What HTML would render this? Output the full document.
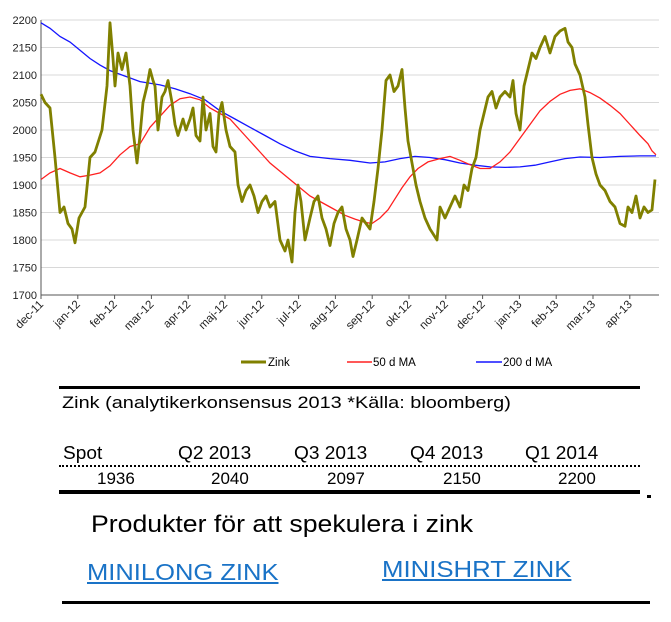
<!DOCTYPE html>
<html><head><meta charset="utf-8"><style>
body{margin:0;background:#fff;width:671px;height:622px;overflow:hidden;font-family:"Liberation Sans",sans-serif;position:relative}
.t{position:absolute;white-space:nowrap;color:#000;transform-origin:0 50%}
</style></head><body>
<svg id="s" width="671" height="380" style="position:absolute;left:0;top:0" font-family="Liberation Sans, sans-serif"></svg>
<div style="position:absolute;left:59px;top:386px;width:581px;height:3px;background:#000"></div>
<div class="t" style="left:62px;top:393px;font-size:17px;transform:scaleX(1.17)">Zink (analytikerkonsensus 2013 *Källa: bloomberg)</div>
<div class="t" style="left:63px;top:443px;font-size:18px;transform:scaleX(1.06)">Spot</div>
<div class="t" style="left:178px;top:443px;font-size:18px;transform:scaleX(1.06)">Q2 2013</div>
<div class="t" style="left:294px;top:443px;font-size:18px;transform:scaleX(1.06)">Q3 2013</div>
<div class="t" style="left:410px;top:443px;font-size:18px;transform:scaleX(1.06)">Q4 2013</div>
<div class="t" style="left:525px;top:443px;font-size:18px;transform:scaleX(1.06)">Q1 2014</div>
<div style="position:absolute;left:59px;top:465px;width:581px;border-top:2px dotted #000"></div>
<div class="t" style="left:97px;top:469px;font-size:17px">1936</div>
<div class="t" style="left:211px;top:469px;font-size:17px">2040</div>
<div class="t" style="left:327px;top:469px;font-size:17px">2097</div>
<div class="t" style="left:443px;top:469px;font-size:17px">2150</div>
<div class="t" style="left:558px;top:469px;font-size:17px">2200</div>
<div style="position:absolute;left:59px;top:490px;width:581px;height:4px;background:#000"></div>
<div style="position:absolute;left:647px;top:495px;width:4px;height:3px;background:#000"></div>
<div class="t" style="left:91px;top:511px;font-size:24px;transform:scaleX(1.11)">Produkter för att spekulera i zink</div>
<div class="t" style="left:87px;top:559px;font-size:23px;color:#1a73c7;text-decoration:underline;transform:scaleX(1.11)">MINILONG ZINK</div>
<div class="t" style="left:382px;top:556px;font-size:23px;color:#1a73c7;text-decoration:underline;transform:scaleX(1.12)">MINISHRT ZINK</div>
<div style="position:absolute;left:62px;top:601px;width:588px;height:3px;background:#000"></div>
<script>
var s=document.getElementById('s'),h='';
function Y(v){return 20+(2200-v)*0.55}
for(var v=1700;v<=2200;v+=50){var y=Y(v);
 if(v>1700)h+='<line x1="41" x2="659" y1="'+y+'" y2="'+y+'" stroke="#d8d8d8" stroke-width="1"/>';
 h+='<text x="37" y="'+(y+4)+'" font-size="11" text-anchor="end" fill="#222">'+v+'</text>';}
h+='<line x1="41" x2="41" y1="20" y2="299" stroke="#555"/><line x1="41" x2="659" y1="295" y2="295" stroke="#555"/>';
var m=['dec-11','jan-12','feb-12','mar-12','apr-12','maj-12','jun-12','jul-12','aug-12','sep-12','okt-12','nov-12','dec-12','jan-13','feb-13','mar-13','apr-13'];
for(var i=0;i<m.length;i++){var x=41+i*36.8;h+='<line x1="'+x+'" x2="'+x+'" y1="295" y2="299" stroke="#555"/>';
 h+='<text x="'+(x+3)+'" y="305" font-size="11.5" text-anchor="end" fill="#222" transform="rotate(-45 '+(x+3)+' 305)">'+m[i]+'</text>';}
function P(a){var r=[];for(var i=0;i<a.length;i+=2)r.push(a[i]+','+Y(a[i+1]).toFixed(1));return r.join(' ')}
var z=[41,2065,45,2050,50,2040,55,1950,60,1850,64,1860,68,1830,72,1820,75,1795,79,1840,85,1860,90,1950,95,1960,102,2000,107,2080,110,2195,113,2130,115,2080,118,2140,122,2110,126,2140,130,2080,133,2000,137,1940,140,1990,143,2050,147,2080,150,2110,153,2090,155,2080,158,2000,162,2060,165,2070,168,2090,172,2050,175,2010,178,1990,183,2020,186,2000,190,2020,193,2040,196,1990,200,1980,203,2060,206,2000,210,2030,213,1970,216,1960,219,2030,222,2050,226,2000,230,1970,235,1960,238,1900,242,1870,246,1890,250,1900,254,1880,258,1850,262,1870,266,1880,270,1860,275,1870,280,1800,285,1780,288,1800,292,1760,295,1850,298,1900,301,1870,305,1800,310,1840,314,1870,318,1880,322,1840,326,1820,330,1790,334,1830,338,1850,342,1860,346,1820,350,1800,353,1770,357,1800,362,1840,366,1830,370,1820,374,1870,378,1930,382,2000,386,2090,390,2100,394,2070,398,2080,402,2110,405,2040,408,1980,412,1940,416,1900,420,1870,425,1840,430,1820,437,1800,440,1860,445,1840,450,1860,455,1880,460,1860,464,1900,468,1890,472,1930,476,1950,480,2000,484,2030,488,2060,492,2070,496,2040,500,2060,505,2070,510,2060,513,2090,516,2030,520,2000,524,2080,528,2110,532,2140,536,2130,540,2150,545,2170,550,2140,555,2170,560,2180,565,2185,568,2160,572,2150,575,2120,580,2100,585,2060,588,2010,592,1950,596,1920,600,1900,605,1890,610,1870,615,1860,620,1830,625,1825,628,1860,632,1850,636,1880,640,1840,644,1860,648,1850,652,1855,655,1910];
var r=[41,1910,50,1922,60,1930,70,1922,80,1915,90,1918,100,1922,110,1935,120,1955,130,1970,140,1975,150,2005,160,2025,170,2045,180,2057,190,2060,200,2055,210,2040,220,2030,230,2020,240,2000,250,1980,260,1960,270,1940,280,1925,290,1910,300,1895,310,1880,320,1870,330,1860,345,1845,355,1838,365,1832,372,1830,380,1840,388,1855,395,1875,402,1895,410,1915,418,1930,428,1942,440,1948,450,1952,460,1945,470,1937,480,1930,490,1930,500,1942,510,1960,520,1985,530,2010,540,2035,550,2052,560,2065,570,2072,580,2075,590,2068,600,2058,610,2045,620,2030,630,2010,640,1990,648,1975,652,1962,656,1955];
var b=[41,2195,50,2185,60,2170,70,2160,80,2145,90,2130,100,2118,110,2108,125,2098,140,2088,160,2082,175,2075,190,2066,205,2055,220,2035,235,2020,250,2005,265,1990,280,1975,295,1962,310,1952,330,1948,350,1945,370,1940,385,1942,400,1948,415,1952,430,1950,445,1946,460,1940,475,1936,490,1933,505,1932,520,1933,535,1936,550,1942,565,1948,580,1951,600,1950,620,1952,640,1953,656,1953];
h+='<polyline points="'+P(b)+'" fill="none" stroke="#1515ff" stroke-width="1.3"/>';
h+='<polyline points="'+P(r)+'" fill="none" stroke="#ff2020" stroke-width="1.3"/>';
h+='<polyline points="'+P(z)+'" fill="none" stroke="#808000" stroke-width="2.8" stroke-linejoin="round"/>';
h+='<line x1="241" x2="266" y1="362" y2="362" stroke="#808000" stroke-width="3"/><text x="268" y="366" font-size="11.5">Zink</text>';
h+='<line x1="347" x2="372" y1="362" y2="362" stroke="#ff2020" stroke-width="1.5"/><text x="373" y="366" font-size="11.5">50 d MA</text>';
h+='<line x1="476" x2="502" y1="362" y2="362" stroke="#1515ff" stroke-width="1.5"/><text x="503" y="366" font-size="11.5">200 d MA</text>';
s.innerHTML=h;
</script>
</body></html>
